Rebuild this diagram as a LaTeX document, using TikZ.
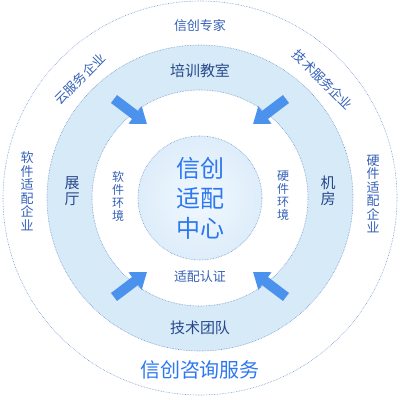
\documentclass[tikz,border=0pt]{standalone}
\usepackage{fontspec}
\setmainfont{Noto Sans CJK SC}
\usetikzlibrary{arrows.meta}
\definecolor{ringblue}{RGB}{214,234,247}
\definecolor{rimblue}{RGB}{110,145,205}
\definecolor{hubin}{RGB}{242,248,254}
\definecolor{hubout}{RGB}{221,237,250}
\definecolor{arrowblue}{RGB}{74,146,236}
\definecolor{darklbl}{RGB}{40,72,140}
\definecolor{midlbl}{RGB}{52,96,184}
\definecolor{brightlbl}{RGB}{44,120,240}

\begin{document}
\begin{tikzpicture}[x=1pt,y=1pt,
  rim/.style={draw=rimblue, densely dotted, line width=0.6pt},
  outerlbl/.style={text=midlbl, font=\fontsize{13}{13.5}\selectfont, align=center, inner sep=0pt},
  bandlbl/.style={text=darklbl, font=\fontsize{15}{16}\selectfont, align=center, inner sep=0pt},
  innerlbl/.style={text=midlbl, font=\fontsize{12}{13}\selectfont, align=center, inner sep=0pt},
  blockarrow/.style={draw=arrowblue, line width=10pt, -{Triangle[width=21pt,length=15pt]}}]
\useasboundingbox (0,0) rectangle (400,400);
\coordinate (c) at (200,202);
\fill[ringblue, even odd rule] (c) circle (153) (c) circle (108);
\shade[inner color=hubin, outer color=hubout] (c) circle (62);
\foreach \r in {197,153,108,62}
{   \draw[rim] (c) circle (\r);
}
\foreach \sx/\sy [count=\i] in {-1/1,1/1,-1/-1,1/-1}
{   \coordinate (tail\i) at ([shift={(86*\sx,99*\sy)}]c);
    \coordinate (tip\i) at ([shift={(53*\sx,74*\sy)}]c);
    \draw[blockarrow] (tail\i) -- (tip\i);
}
\node[text=brightlbl, font=\fontsize{24}{30}\selectfont, align=center] (hub) at (c) {信创\\适配\\中心};
\node[outerlbl] (expert) at (200,374) {信创专家};
\node[outerlbl, rotate=45] (cloud) at (80,321) {云服务企业};
\node[outerlbl, rotate=-45] (techsvc) at (323,320) {技术服务企业};
\node[outerlbl] (softent) at (27,209) {软\\件\\适\\配\\企\\业};
\node[outerlbl] (hardent) at (373,206) {硬\\件\\适\\配\\企\\业};
\node[text=brightlbl, font=\fontsize{20}{22}\selectfont, inner sep=0pt] (consult) at (200,30) {信创咨询服务};
\node[bandlbl] (train) at (200,329) {培训教室};
\node[bandlbl] (hall) at (72,209) {展\\厅};
\node[bandlbl] (room) at (328,209) {机\\房};
\node[bandlbl] (team) at (200,72) {技术团队};
\node[innerlbl] (softenv) at (118,204) {软\\件\\环\\境};
\node[innerlbl] (hardenv) at (283,204) {硬\\件\\环\\境};
\node[innerlbl, font=\fontsize{13}{14}\selectfont] (cert) at (200,123) {适配认证};
\end{tikzpicture}
\end{document}
